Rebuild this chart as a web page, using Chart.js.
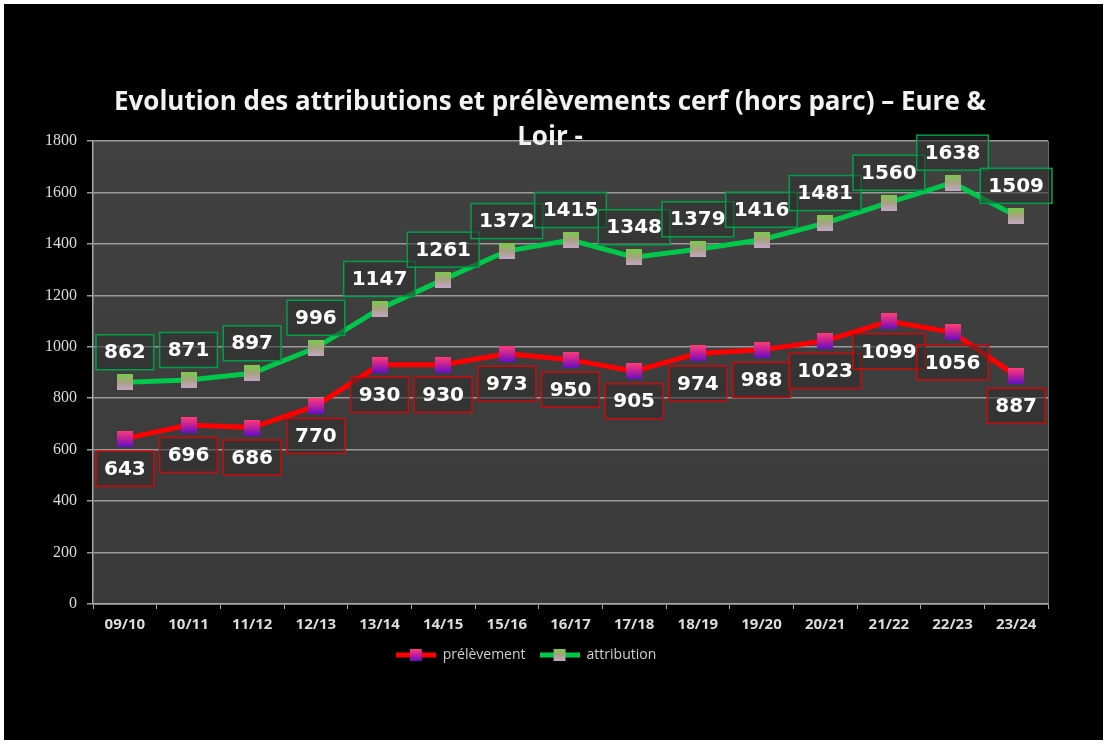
<!DOCTYPE html>
<html>
<head>
<meta charset="utf-8">
<script src="https://cdn.jsdelivr.net/npm/chart.js@4"></script>
<style>
  body { margin: 0; background: #ffffff; }
  #cadre { position: absolute; left: 4px; top: 4px; width: 1099px; height: 736px; background: #000000; }
</style>
</head>
<body>
<div id="cadre"><canvas id="graphique" width="1099" height="736"></canvas></div>
<script>
// données
var saisons = ["09/10", "10/11", "11/12", "12/13", "13/14", "14/15", "15/16", "16/17", "17/18", "18/19", "19/20", "20/21", "21/22", "22/23", "23/24"];
var prelevement = [643, 696, 686, 770, 930, 930, 973, 950, 905, 974, 988, 1023, 1099, 1056, 887];
var attribution = [862, 871, 897, 996, 1147, 1261, 1372, 1415, 1348, 1379, 1416, 1481, 1560, 1638, 1509];
var titre = ["Evolution des attributions et prélèvements cerf (hors parc) – Eure &", "Loir -"];

function marqueur(taille, couleurs) {
    var c = document.createElement("canvas");
    c.width = taille; c.height = taille;
    var ctx = c.getContext("2d");
    var g = ctx.createLinearGradient(0, 0, 0, taille);
    g.addColorStop(0, couleurs[0]);
    g.addColorStop(0.5, couleurs[1]);
    g.addColorStop(1, couleurs[2]);
    ctx.fillStyle = g;
    ctx.fillRect(0, 0, taille, taille);
    return c;
}

function iconeLegende(trait, couleurs) {
    var c = document.createElement("canvas");
    c.width = 40; c.height = 14;
    var ctx = c.getContext("2d");
    ctx.strokeStyle = trait;
    ctx.lineWidth = 5;
    ctx.beginPath(); ctx.moveTo(0, 7); ctx.lineTo(40, 7); ctx.stroke();
    ctx.drawImage(marqueur(12, couleurs), 14, 1);
    return c;
}

var coulRouge = ["#ff3c78", "#c02098", "#6210c8"];
var coulVert = ["#78cc48", "#a8a282", "#c4a6c6"];

var fondPlot = {
    id: "fondPlot",
    beforeDraw: function(chart) {
        var a = chart.chartArea, ctx = chart.ctx;
        ctx.save();
        var g = ctx.createLinearGradient(0, a.top, 0, a.bottom);
        g.addColorStop(0, "#414141");
        g.addColorStop(1, "#3a3a3a");
        ctx.fillStyle = g;
        ctx.fillRect(a.left, a.top, a.right - a.left, a.bottom - a.top);
        ctx.strokeStyle = "#6a6a6a";
        ctx.lineWidth = 1;
        ctx.beginPath(); ctx.moveTo(a.right + 0.5, a.top); ctx.lineTo(a.right + 0.5, a.bottom); ctx.stroke();
        ctx.restore();
    },
    afterDraw: function(chart) {
        var ctx = chart.ctx;
        ctx.save();
        ctx.fillStyle = "#f2f2f2";
        ctx.textAlign = "center";
        ctx.textBaseline = "middle";
        ctx.font = "bold 26px 'Open Sans'";
        ctx.fillText(titre[0], 546, 99, 872);
        ctx.fillText(titre[1], 546, 134);
        ctx.restore();
    }
};

var etiquettes = {
    id: "etiquettes",
    afterDatasetsDraw: function(chart) {
        var ctx = chart.ctx;
        ctx.save();
        ctx.font = "bold 20px 'DejaVu Sans'";
        ctx.textAlign = "center";
        ctx.textBaseline = "middle";
        chart.data.datasets.forEach(function(ds, i) {
            var meta = chart.getDatasetMeta(i);
            var decal = i === 0 ? 30 : -30;
            meta.data.forEach(function(pt, j) {
                var txt = String(ds.data[j]);
                var w = ctx.measureText(txt).width + 16;
                var h = 35;
                var cx = pt.x, cy = pt.y + decal;
                ctx.fillStyle = "rgba(45,45,45,0.55)";
                ctx.fillRect(cx - w / 2, cy - h / 2, w, h);
                ctx.strokeStyle = ds.cadre;
                ctx.lineWidth = 1.5;
                ctx.strokeRect(cx - w / 2, cy - h / 2, w, h);
                ctx.fillStyle = "#ffffff";
                ctx.fillText(txt, cx, cy + 1);
            });
        });
        ctx.restore();
    }
};

var ctxG = document.getElementById("graphique").getContext("2d");
var monGraphique = new Chart(ctxG, {
    type: "line",
    data: {
        labels: saisons,
        datasets: [
            {
                label: "prélèvement",
                data: prelevement,
                borderColor: "#ff0000",
                backgroundColor: "#ff0000",
                borderWidth: 5,
                pointStyle: marqueur(16, coulRouge),
                legende: iconeLegende("#ff0000", coulRouge),
                cadre: "#cc0a0a",
                tension: 0
            },
            {
                label: "attribution",
                data: attribution,
                borderColor: "#00c84a",
                backgroundColor: "#00c84a",
                borderWidth: 5,
                pointStyle: marqueur(16, coulVert),
                legende: iconeLegende("#00c84a", coulVert),
                cadre: "#00a04a",
                tension: 0
            }
        ]
    },
    options: {
        responsive: false,
        animation: false,
        layout: { padding: { left: 0, right: 55, top: 137, bottom: 68 } },
        scales: {
            x: {
                offset: true,
                grid: { display: true, drawOnChartArea: false, offset: true, tickLength: 5, color: "#a8a8a8" },
                border: { color: "#a8a8a8", width: 1.5 },
                ticks: { color: "#dcdcdc", font: { family: "'Open Sans'", size: 15, weight: "bold" }, padding: 7, maxRotation: 0 },
                afterFit: function(s) { s.height = 30; }
            },
            y: {
                min: 0,
                max: 1800,
                ticks: {
                    stepSize: 200,
                    color: "#dcdcdc",
                    font: { family: "'Liberation Serif'", size: 16 },
                    padding: 10,
                    callback: function(v) { return String(v); }
                },
                grid: { color: "#9a9a9a", lineWidth: 1.5, tickLength: 6 },
                border: { color: "#a8a8a8", width: 1.5 },
                afterFit: function(s) { s.width = 89; }
            }
        },
        plugins: {
            title: { display: false },
            tooltip: { enabled: false },
            legend: {
                position: "bottom",
                labels: {
                    usePointStyle: true,
                    pointStyleWidth: 40,
                    color: "#d0d0d0",
                    padding: 14,
                    font: { family: "'Open Sans'", size: 14 },
                    generateLabels: function(chart) {
                        var items = Chart.defaults.plugins.legend.labels.generateLabels(chart);
                        items.forEach(function(it) {
                            it.pointStyle = chart.data.datasets[it.datasetIndex].legende;
                        });
                        return items;
                    }
                }
            }
        }
    },
    plugins: [fondPlot, etiquettes]
});
</script>
</body>
</html>
